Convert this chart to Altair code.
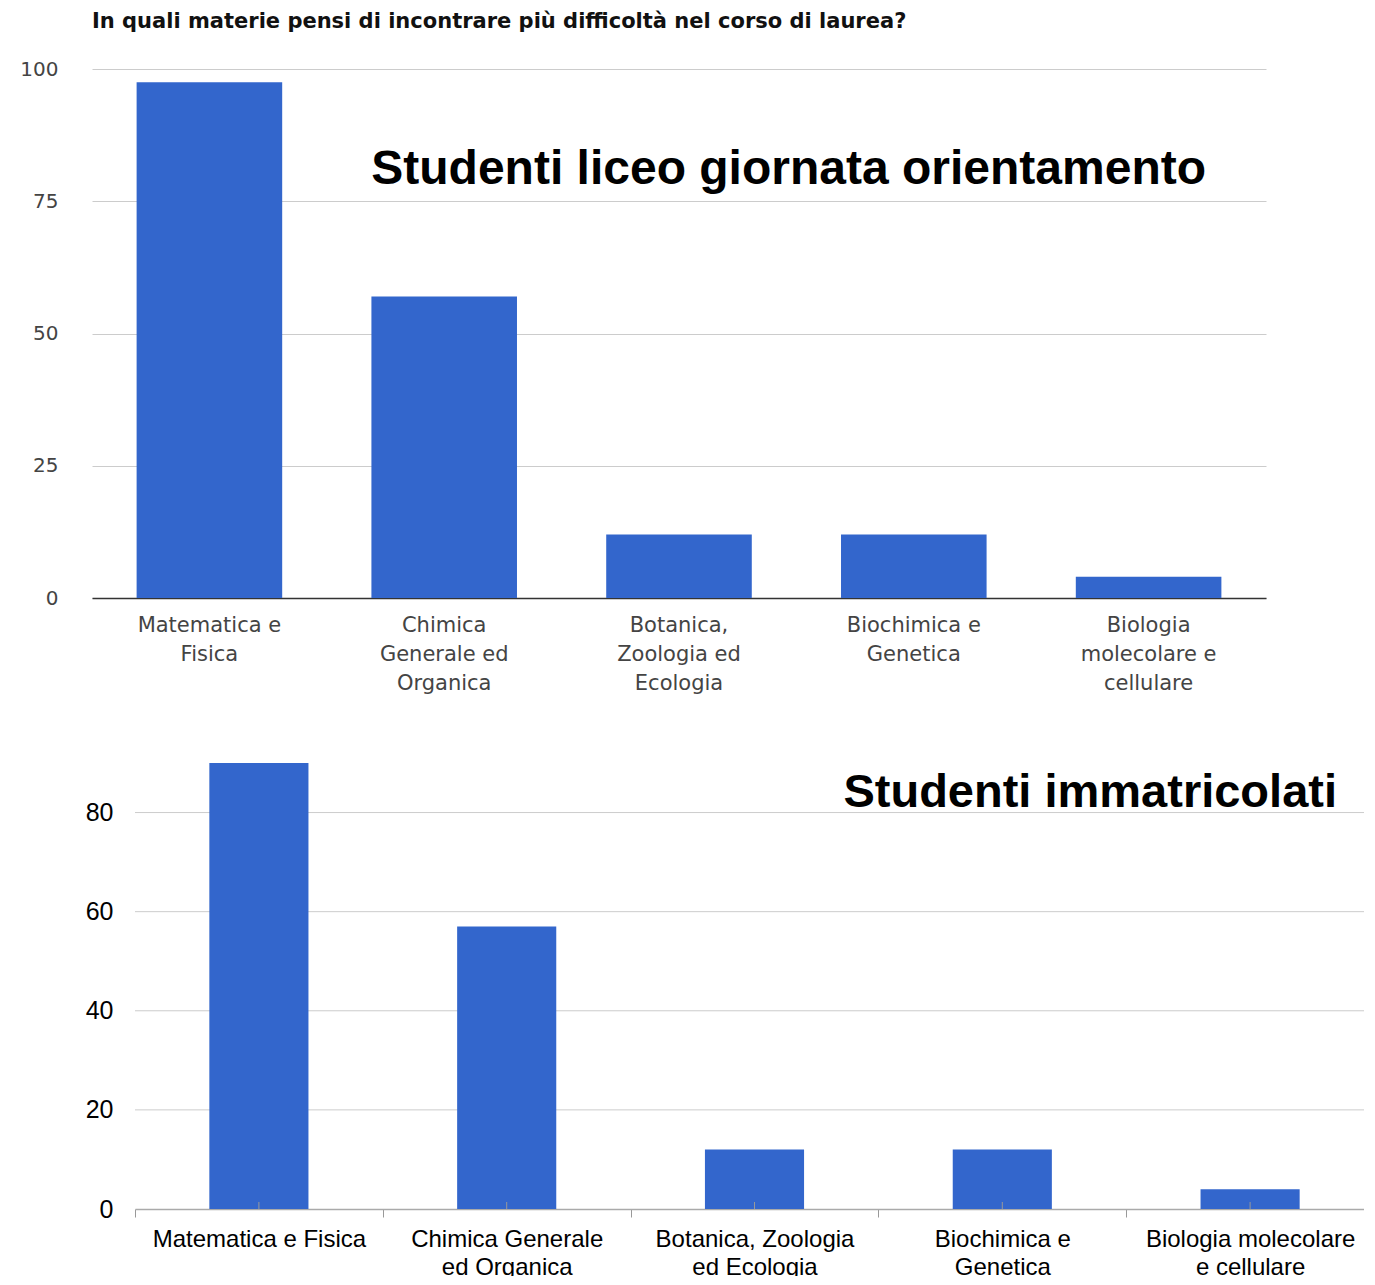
import json
import altair as alt
import pandas as pd

categories = ["Matematica e Fisica", "Chimica Generale ed Organica",
              "Botanica, Zoologia ed Ecologia", "Biochimica e Genetica",
              "Biologia molecolare e cellulare"]
liceo_values = [97.5, 57, 12, 12, 4]
immatricolati_values = [90, 57, 12, 12, 4]

top_wrapped = [["Matematica e", "Fisica"], ["Chimica", "Generale ed", "Organica"],
               ["Botanica,", "Zoologia ed", "Ecologia"], ["Biochimica e", "Genetica"],
               ["Biologia", "molecolare e", "cellulare"]]
bottom_wrapped = [["Matematica e Fisica"], ["Chimica Generale", "ed Organica"],
                  ["Botanica, Zoologia", "ed Ecologia"], ["Biochimica e", "Genetica"],
                  ["Biologia molecolare", "e cellulare"]]
bottom_ticks = [0, 20, 40, 60, 80]
bottom_grid = [20, 40, 60, 80]

title_text = "In quali materie pensi di incontrare più difficoltà nel corso di laurea?"
note_top = "Studenti liceo giornata orientamento"
note_bottom = "Studenti immatricolati"

BLUE = "#3366cc"


def label_expr(wrapped):
    mapping = {c: w for c, w in zip(categories, wrapped)}
    return json.dumps(mapping, ensure_ascii=False) + "[datum.label]"


df_top = pd.DataFrame({"materia": categories, "valore": liceo_values})
df_bot = pd.DataFrame({"materia": categories, "valore": immatricolati_values})

W1, H1 = 1174, 529
SHIFT = 43            # bottom panel's plot starts further right than the top one
W2, H2 = 1282, 446

# ---------- top panel ----------
x_top = alt.X("materia:N", sort=categories, title=None,
              scale=alt.Scale(paddingInner=0, paddingOuter=0),
              axis=alt.Axis(labelAngle=0, ticks=False, domainColor="#333333", domainWidth=1.5,
                            labelFont="DejaVu Sans", labelFontSize=21, labelColor="#444444",
                            labelPadding=16, labelLineHeight=29, labelLimit=400,
                            labelExpr=label_expr(top_wrapped)))
y_top = alt.Y("valore:Q", title=None,
              scale=alt.Scale(domain=[0, 100], nice=False),
              axis=alt.Axis(values=[0, 25, 50, 75, 100], ticks=False, domain=False,
                            gridColor="#cccccc", labelFont="DejaVu Sans", labelFontSize=20,
                            labelColor="#444444", labelPadding=34,
                            minExtent=84, maxExtent=84))

bars_top = alt.Chart(df_top).mark_bar(color=BLUE, width=alt.RelativeBandSize(0.62)).encode(
    x=x_top, y=y_top)
note1 = alt.Chart(pd.DataFrame({"t": [note_top], "v": [81]})).mark_text(
    font="Liberation Sans", fontSize=48, fontWeight="bold", color="black",
    align="right", baseline="middle").encode(
    text="t:N", x=alt.value(1114), y=alt.Y("v:Q", scale=alt.Scale(domain=[0, 100], nice=False)))

top = alt.layer(bars_top, note1).properties(
    width=W1, height=H1,
    title=alt.TitleParams(title_text, anchor="start", frame="group", font="DejaVu Sans",
                          fontSize=21, fontWeight="bold", color="#111111", offset=27))

# ---------- bottom panel ----------
y_scale_bot = alt.Scale(domain=[0, 90], nice=False)
y_axis_bot = alt.Axis(values=bottom_ticks, ticks=False, domain=False, grid=False,
                      labelFont="Liberation Sans", labelFontSize=25,
                      labelColor="black", labelPadding=22, offset=-SHIFT,
                      minExtent=84, maxExtent=84)
x_bot = alt.X("materia:N", sort=categories, title=None,
              scale=alt.Scale(paddingInner=0, paddingOuter=0, range=[SHIFT, W2]),
              axis=alt.Axis(labelAngle=0, tickBand="extent", tickSize=8, tickColor="#999999",
                            domainColor="#aaaaaa", domainWidth=1.5,
                            labelFont="Liberation Sans", labelFontSize=24, labelColor="black",
                            labelPadding=10, labelLineHeight=28, labelLimit=400,
                            labelExpr=label_expr(bottom_wrapped)))

grid_bot = alt.Chart(pd.DataFrame({"g": bottom_grid})).mark_rule(color="#cccccc").encode(
    y=alt.Y("g:Q", scale=y_scale_bot, axis=y_axis_bot, title=None),
    x=alt.value(SHIFT), x2=alt.value(W2))
bars_bot = alt.Chart(df_bot).mark_bar(color=BLUE, width=alt.RelativeBandSize(0.4)).encode(
    x=x_bot, y=alt.Y("valore:Q", title=None, scale=y_scale_bot, axis=y_axis_bot))
center_ticks = alt.Chart(df_bot).mark_rule(color="#999999").encode(
    x=alt.X("materia:N", sort=categories), y=alt.value(H2 - 7), y2=alt.value(H2))
note2 = alt.Chart(pd.DataFrame({"t": [note_bottom], "v": [84]})).mark_text(
    font="Liberation Sans", fontSize=47, fontWeight="bold", color="black",
    align="right", baseline="middle").encode(
    text="t:N", x=alt.value(1202 + SHIFT), y=alt.Y("v:Q", scale=y_scale_bot, axis=y_axis_bot))

bottom = alt.layer(grid_bot, bars_bot, center_ticks, note2).properties(width=W2, height=H2)

chart = alt.vconcat(top, bottom, spacing=70).properties(
    padding={"left": 0, "top": 3, "right": -11, "bottom": -3}
).configure_view(stroke=None)

chart.save("out.html", embed_options={"renderer": "svg", "actions": False})
